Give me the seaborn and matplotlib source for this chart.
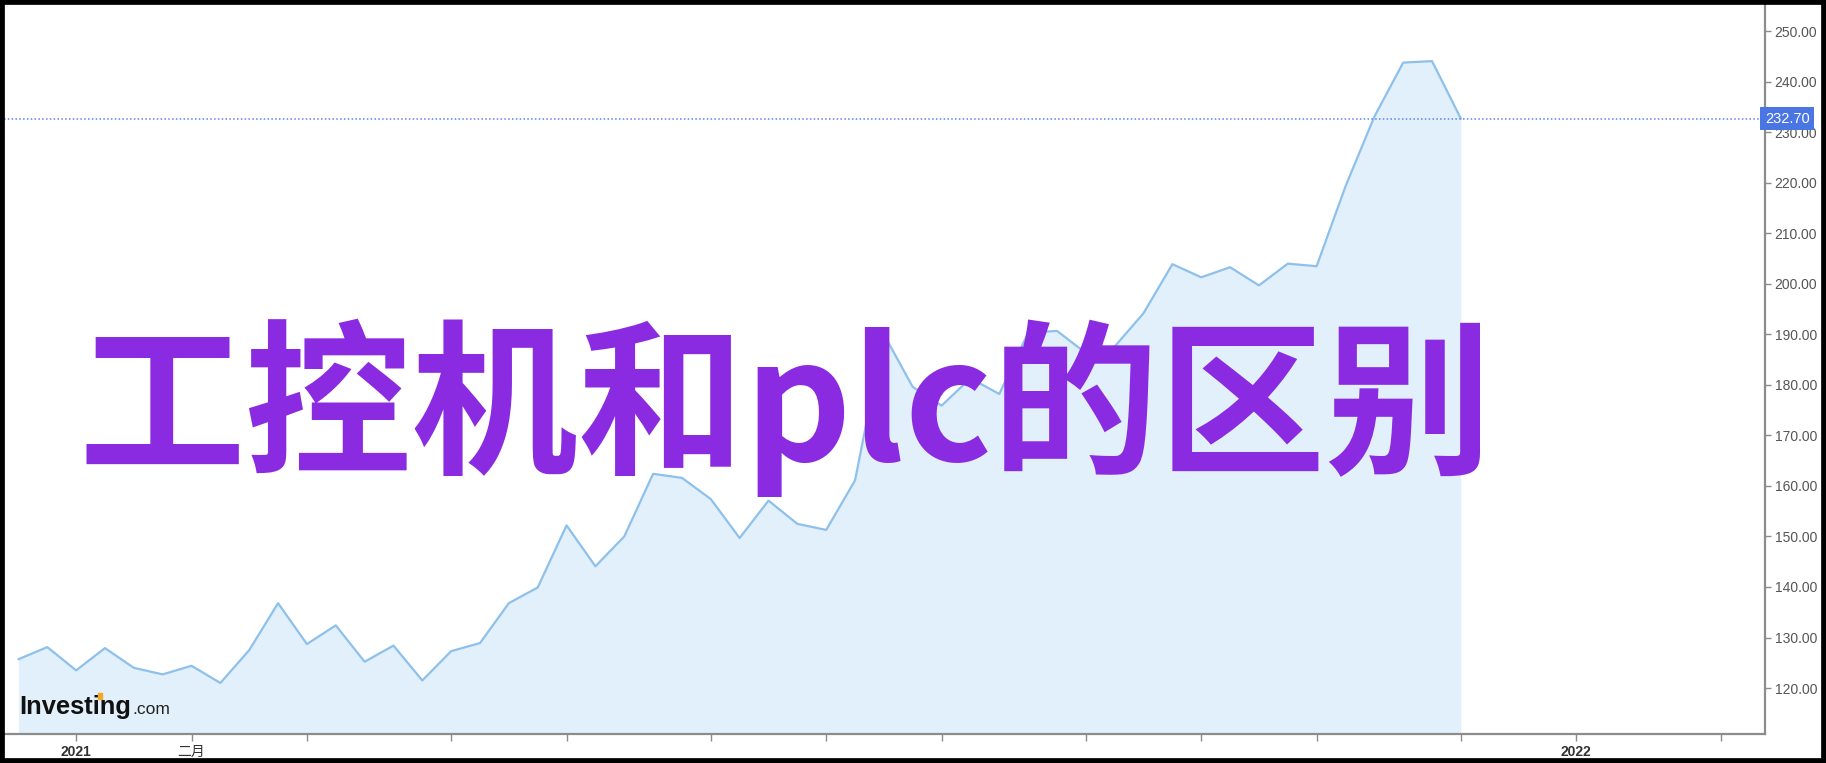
import numpy as np
import pandas as pd
import matplotlib
matplotlib.use('Agg')
import matplotlib.pyplot as plt
import matplotlib.dates as mdates
import matplotlib.transforms as mtransforms
from matplotlib.patches import Rectangle
import seaborn as sns

# weekly closes, week of 2020-12-21 to week of 2021-12-06
first_week = '2020-12-21'
closes = [125.7, 128.1, 123.5, 127.9, 124.0, 122.7, 124.4, 121.0, 127.5, 136.8,
          128.7, 132.4, 125.2, 128.4, 121.5, 127.3, 128.9, 136.8, 139.9, 152.2,
          144.1, 150.0, 162.4, 161.6, 157.4, 149.7, 157.1, 152.5, 151.3, 161.1,
          190.0, 179.6, 175.9, 181.3, 178.2, 190.3, 190.7, 186.3, 187.6, 194.2,
          203.9, 201.3, 203.3, 199.7, 204.0, 203.5, 219.3, 233.1, 243.8, 244.1,
          232.7]
last_price = 232.70

# month ticks sit on the first weekly bar of each month
tick_dates = ['2021-01-04', '2021-02-01', '2021-03-01', '2021-04-05', '2021-05-03',
              '2021-06-07', '2021-07-05', '2021-08-02', '2021-09-06', '2021-10-04',
              '2021-11-01', '2021-12-06', '2022-01-03', '2022-02-07']
tick_labels = ['2021', '二月', '', '', '', '', '', '', '', '', '', '', '2022', '']
y_ticks = list(range(120, 251, 10))
title = '工控机和plc的区别'

df = pd.DataFrame({'date': pd.date_range(first_week, periods=len(closes), freq='7D'),
                   'close': closes})

sns.set_style('white')
plt.rcParams['font.family'] = ['Liberation Sans', 'Noto Sans CJK SC', 'DejaVu Sans']

W, H = 1826, 763
fig = plt.figure(figsize=(W / 100, H / 100), dpi=100)
ax = fig.add_axes([4 / W, 29 / H, (1765 - 4) / W, (760 - 29) / H])

line_col = '#8ec0ec'
fill_col = '#e1f0fa'
grey = '#8c8c8c'

sns.lineplot(data=df, x='date', y='close', ax=ax, color=line_col, linewidth=1.6, zorder=3)
ax.fill_between(df['date'], df['close'], 100, color=fill_col, zorder=2, linewidth=0)

ax.set_xlim(pd.Timestamp('2020-12-17 12:00'), pd.Timestamp('2022-02-17 19:00'))
ax.set_ylim(110.9, 255.6)

# last price marker
ax.axhline(last_price, color='#5b84f0', linestyle=(0, (1, 1.5)), linewidth=1.1, zorder=4)
trans = mtransforms.blended_transform_factory(ax.transAxes, ax.transData)
ax.text(1.0, last_price, f'{last_price:.2f}', transform=trans, ha='left', va='center',
        color='white', fontsize=10.5, zorder=10, clip_on=False,
        bbox=dict(boxstyle='square,pad=0.32', fc='#4a76e3', ec='none'))

# axes styling
for s in ['top', 'left']:
    ax.spines[s].set_visible(False)
for s in ['bottom', 'right']:
    ax.spines[s].set_color(grey)
    ax.spines[s].set_linewidth(1.6)

ax.yaxis.tick_right()
ax.set_yticks(y_ticks)
ax.set_yticklabels([f'{v:.2f}' for v in y_ticks])
ax.tick_params(axis='y', direction='out', length=4, width=1, color=grey,
               labelcolor='#555555', labelsize=10, pad=3, right=True, left=False)

ax.set_xticks([pd.Timestamp(d) for d in tick_dates])
ax.set_xticklabels(tick_labels)
ax.tick_params(axis='x', direction='out', length=5, width=1, color=grey,
               labelcolor='#333333', labelsize=10, pad=3, bottom=True)
for lab in ax.get_xticklabels():
    if lab.get_text() in ('2021', '2022'):
        lab.set_fontweight('bold')
    else:
        lab.set_family(['Noto Sans CJK SC', 'DejaVu Sans'])
ax.set_xlabel('')
ax.set_ylabel('')
ax.grid(False)

# watermark logo
fig.text(19 / W, 1 - 714 / H, 'Investing', fontsize=18.4, fontweight='bold', color='#111111',
         va='baseline', ha='left')
fig.text(132 / W, 1 - 714 / H, '.com', fontsize=12.5, color='#222222',
         va='baseline', ha='left')
fig.patches.append(Rectangle((98 / W, 1 - 699 / H), 4 / W, 6 / H, transform=fig.transFigure,
                             color='#f5a623', zorder=20))

# overlay title
fig.text(785 / W, 1 - 461 / H, title, fontsize=120, fontweight='bold', color='#8a2be2',
         family=['Noto Sans CJK SC', 'DejaVu Sans'], ha='center', va='baseline', zorder=30)

# black frame around the picture
fig.patches.append(Rectangle((0, 0), 1, 1, transform=fig.transFigure, fill=False,
                             ec='black', lw=7, zorder=40))

fig.savefig('out.png', dpi=100)
